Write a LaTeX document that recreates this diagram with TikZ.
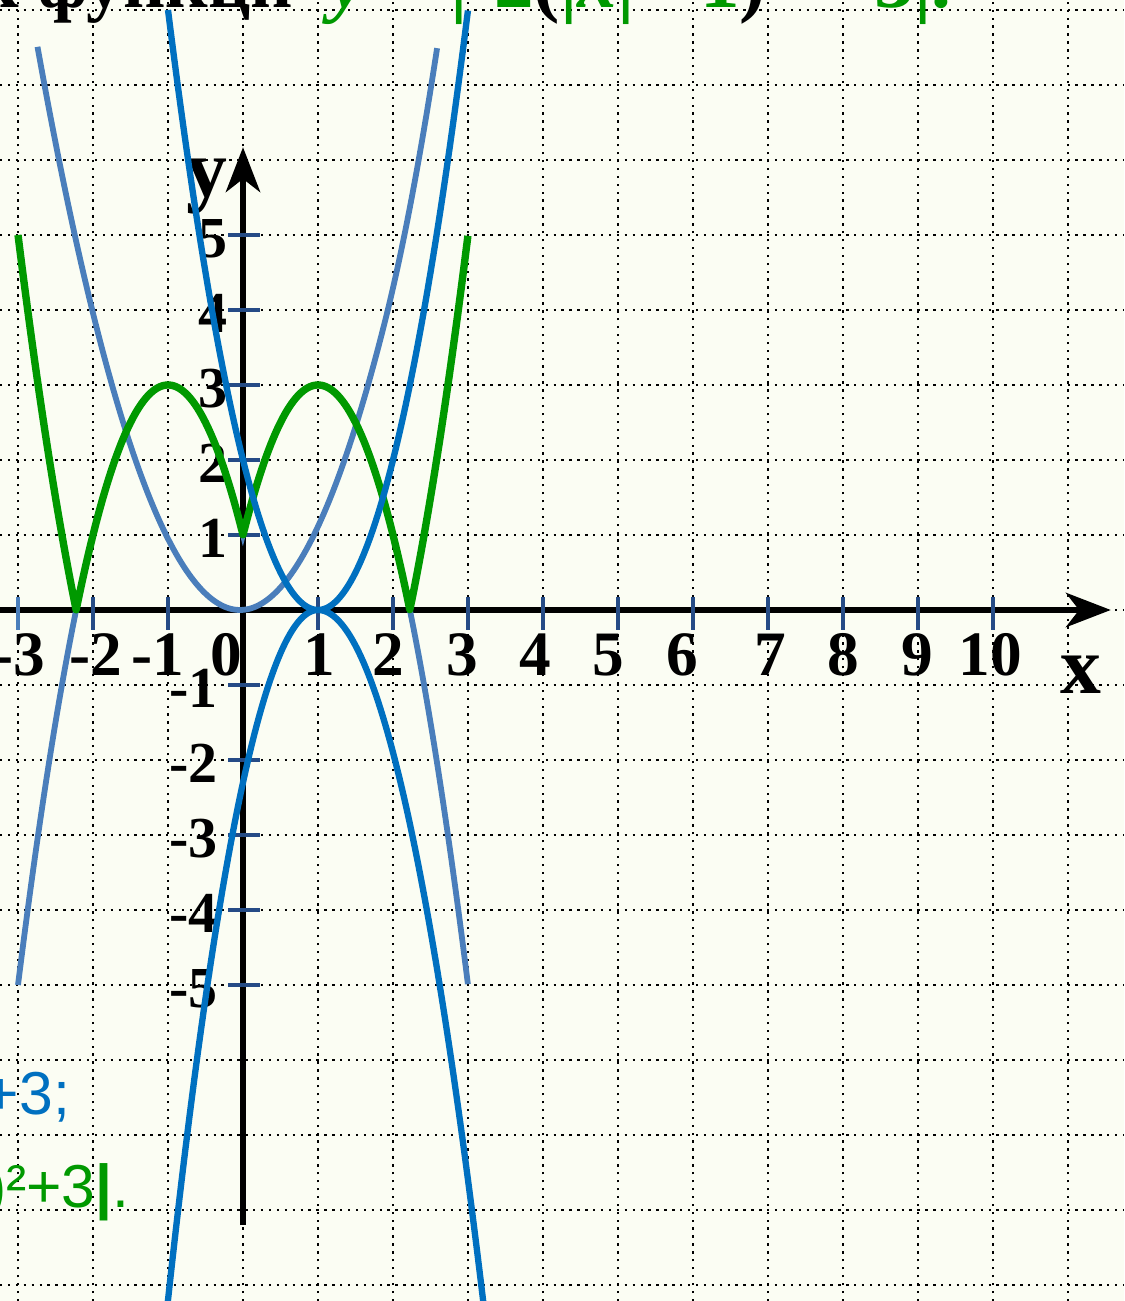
\documentclass[tikz,border=0pt]{standalone}
\usepackage{fontspec}
\setmainfont{Liberation Serif}
\newfontfamily\sansf{Liberation Sans}
\usetikzlibrary{arrows.meta}
\definecolor{bg}{RGB}{251,253,243}
\definecolor{steelc}{RGB}{74,126,187}
\definecolor{bluec}{RGB}{0,112,192}
\definecolor{grnc}{RGB}{0,153,0}
\definecolor{tickc}{RGB}{37,75,134}
\begin{document}
\begin{tikzpicture}[x=1cm,y=1cm,
  gridline/.style={black, line width=0.9pt, dash pattern=on 0.9pt off 2.1pt},
  axisline/.style={black, line width=2.3pt, -{Stealth[length=17pt,width=13pt,inset=5pt]}},
  tickline/.style={tickc, line width=1.7pt},
  xlab/.style={font=\fontsize{24}{24}\selectfont\bfseries, inner sep=0pt, anchor=base},
  ylab/.style={font=\fontsize{22}{22}\selectfont\bfseries, inner sep=0pt, anchor=base east},
  axlab/.style={font=\fontsize{31}{31}\selectfont\bfseries, inner sep=0pt, anchor=base},
  steelcurve/.style={steelc, line width=2.2pt},
  bluecurve/.style={bluec, line width=2.4pt},
  grncurve/.style={grnc, line width=2.8pt, line join=round},
  titletext/.style={font=\fontsize{28}{28}\selectfont\bfseries, inner sep=0pt},
  legtext/.style={font=\sansf\fontsize{23}{23}\selectfont, inner sep=0pt, anchor=base east}
]
\useasboundingbox (-3.24,-9.2133) rectangle (11.7467,8.1333);
\clip (-3.24,-9.2133) rectangle (11.7467,8.1333);
\fill[bg] (-3.24,-9.2133) rectangle (11.7467,8.1333);

% grid
\foreach \i in {-3,...,11} \draw[gridline] (\i,-9.2133) -- (\i,8.1333);
\foreach \j in {-9,...,8} \draw[gridline] (-3.24,\j) -- (11.7467,\j);

% axes
\coordinate (xs) at (-3.24,0);
\coordinate (xe) at (11.57,0);
\coordinate (ys) at (0,-8.2);
\coordinate (ye) at (0,6.17);
\draw[axisline] (xs) -- (xe);
\draw[axisline] (ys) -- (ye);

% ticks
\draw[tickline, steelc] (-3,0.173) -- (-3,-0.267);
\foreach \i in {-2,-1,1,2,...,10} \draw[tickline] (\i,0.173) -- (\i,-0.267);
\foreach \j in {-5,...,-1,1,2,...,5} \draw[tickline] (-0.2,\j) -- (0.227,\j);

% x labels
\node[xlab] (lxm3) at (-2.993,-0.867) {-3};
\node[xlab] (lxm2) at (-1.967,-0.867) {-2};
\node[xlab] (lxm1) at (-1.14,-0.867) {-1};
\node[xlab] (lx0) at (-0.227,-0.867) {0};
\node[xlab] (lx1) at (1.013,-0.867) {1};
\node[xlab] (lx2) at (1.933,-0.867) {2};
\node[xlab] (lx3) at (2.92,-0.867) {3};
\node[xlab] (lx4) at (3.893,-0.867) {4};
\node[xlab] (lx5) at (4.867,-0.867) {5};
\node[xlab] (lx6) at (5.853,-0.867) {6};
\node[xlab] (lx7) at (7.027,-0.867) {7};
\node[xlab] (lx8) at (8.0,-0.867) {8};
\node[xlab] (lx9) at (8.987,-0.867) {9};
\node[xlab] (lx10) at (9.96,-0.867) {10};

% y labels
\foreach \j in {1,...,5} \node[ylab] (ly\j) at (-0.2,\j-0.3) {\j};
\foreach \j in {1,...,5} \node[ylab] (lym\j) at (-0.333,-\j-0.3) {-\j};

% axis names
\node[axlab] (xname) at (11.173,-1.107) {x};
\node[axlab] (yname) at (-0.48,5.507) {y};

% title (cut at top)
\node[titletext, anchor=base east] (title1) at (0.68,8.027) {График функци};
\node[titletext, anchor=base west, text=grnc, font=\fontsize{30}{30}\selectfont\bfseries] (title2) at (1.16,8.027)
  {\textit{y} = |-2\textcolor{black}{(}|\textit{x}| - 1\textcolor{black}{)}² + 3|.};

% legend (cut at left)
\node[legtext, text=bluec] (leg1) at (-2.3,-6.733) {y=-2(x-1)²+3;};
\node[legtext, text=grnc] (leg2) at (-1.507,-7.96) {y=\textbf{|}-2(\textbf{|}x\textbf{|}-1)²+3\textbf{|}.};

% curves
\draw[steelcurve] plot[domain=-2.74:2.59, samples=160] (\x, {1.03*(\x+0.04)^2 + 0.8*max(\x-1.9,0)^2});
\draw[steelcurve] plot[domain=-3:3, samples=241] (\x, {-2*(abs(\x)-1)^2+3});
\draw[grncurve] plot[domain=-3:3, samples=241] (\x, {abs(-2*(abs(\x)-1)^2+3)});
\draw[bluecurve] plot[domain=-1:3, samples=121] (\x, {2*(\x-1)^2});
\draw[bluecurve] plot[domain=-1.02:3.22, samples=171] (\x, {-ifthenelse(\x<1,2.3,1.9)*(\x-1)^2});
\end{tikzpicture}
\end{document}
